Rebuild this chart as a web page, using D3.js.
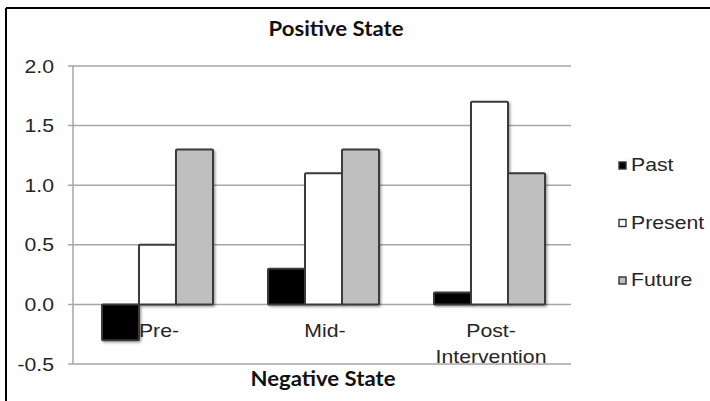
<!DOCTYPE html>
<html><head><meta charset="utf-8">
<script src="https://cdn.jsdelivr.net/npm/d3@7"></script>
<style>body{margin:0;background:#fff}svg{display:block}</style>
</head><body>
<script>
const categories = [["Pre-"], ["Mid-"], ["Post-", "Intervention"]];
const seriesNames = ["Past", "Present", "Future"];
const past = [-0.3, 0.3, 0.1];
const present = [0.5, 1.1, 1.7];
const future = [1.3, 1.3, 1.1];
const yTicks = [-0.5, 0, 0.5, 1.0, 1.5, 2.0];
const colors = ["#000000", "#ffffff", "#bfbfbf"];
const values = [past, present, future];

const W = 710, H = 401;
const SX = 1.18;
const svg = d3.select("body").append("svg").attr("width", W).attr("height", H);
const defs = svg.append("defs");
const f = defs.append("filter").attr("id","sh").attr("x","-20%").attr("y","-20%").attr("width","150%").attr("height","150%");
f.append("feDropShadow").attr("dx",1.5).attr("dy",1.5).attr("stdDeviation",1.2).attr("flood-color","#000").attr("flood-opacity",0.35);

function label(parent, x, y, txt, o) {
  o = o || {};
  const g = parent.append("g").attr("transform", `translate(${x},${y}) scale(${o.sx || SX},1)`);
  return g.append("text").attr("x",0).attr("y",0)
    .attr("text-anchor", o.anchor || "start")
    .attr("font-family", o.family || "Liberation Sans, Arial, sans-serif")
    .attr("font-weight", o.weight || "normal")
    .attr("font-size", o.size || 18)
    .attr("fill", o.fill || "#262626")
    .text(txt);
}

// frame
svg.append("line").attr("x1",6).attr("x2",W).attr("y1",8).attr("y2",8).attr("stroke","#000").attr("stroke-width",2);
svg.append("line").attr("x1",6).attr("x2",6).attr("y1",8).attr("y2",H).attr("stroke","#000").attr("stroke-width",2);

const x0 = d3.scaleBand().domain(d3.range(categories.length)).range([73, 571]);
const y = d3.scaleLinear().domain([-0.5, 2.0]).range([364, 66]);
const x1 = d3.scaleBand().domain(d3.range(seriesNames.length)).range([0, 111]);

// gridlines
svg.append("g").selectAll("line").data(yTicks).join("line")
  .attr("x1", 68).attr("x2", 571).attr("y1", d => y(d)).attr("y2", d => y(d))
  .attr("stroke", "#a6a6a6").attr("stroke-width", 1.5);
svg.append("line").attr("x1",73).attr("x2",73).attr("y1",y(2)).attr("y2",y(-0.5)).attr("stroke","#a6a6a6").attr("stroke-width",1.5);

// y labels
const fmt = d => d3.format(".1f")(d).replace("\u2212", "-");
const yl = svg.append("g");
yTicks.forEach(d => label(yl, 54, y(d) + 6.5, fmt(d), {anchor: "end"}));

// bars
const groups = svg.append("g").selectAll("g").data(categories.map((c,i)=>i)).join("g")
  .attr("transform", i => `translate(${x0(i) + (x0.bandwidth() - 111)/2 + 1.5},0)`);
groups.selectAll("rect").data(i => values.map((v, s) => ({s, v: v[i]}))).join("rect")
  .attr("x", d => x1(d.s)).attr("width", x1.bandwidth())
  .attr("y", d => y(Math.max(0, d.v))).attr("height", d => Math.abs(y(d.v) - y(0)))
  .attr("fill", d => colors[d.s]).attr("stroke", "#3a3a3a").attr("stroke-width", 2)
  .attr("rx", 1).attr("filter", "url(#sh)");

// category labels
const cl = svg.append("g");
categories.forEach((lines, i) => {
  lines.forEach((t, j) => label(cl, x0(i) + x0.bandwidth()/2 + 3, y(0) + 33 + j*26, t, {anchor: "middle"}));
});

// titles
const tt = svg.append("g");
label(tt, 336, 36, "Positive State", {anchor:"middle", family:"Lato, sans-serif", weight:"bold", size:20.5, sx:1.08, fill:"#111"});
label(tt, 323, 386, "Negative State", {anchor:"middle", family:"Lato, sans-serif", weight:"bold", size:20.5, sx:1.08, fill:"#111"});

// legend
const lgBase = [171, 228.5, 286];
const lg = svg.append("g");
seriesNames.forEach((d, i) => {
  lg.append("rect").attr("x",619).attr("y",lgBase[i]-9).attr("width",7).attr("height",7)
    .attr("fill",colors[i]).attr("stroke","#333").attr("stroke-width",1.4);
  label(lg, 631, lgBase[i], d);
});
</script>
</body></html>
